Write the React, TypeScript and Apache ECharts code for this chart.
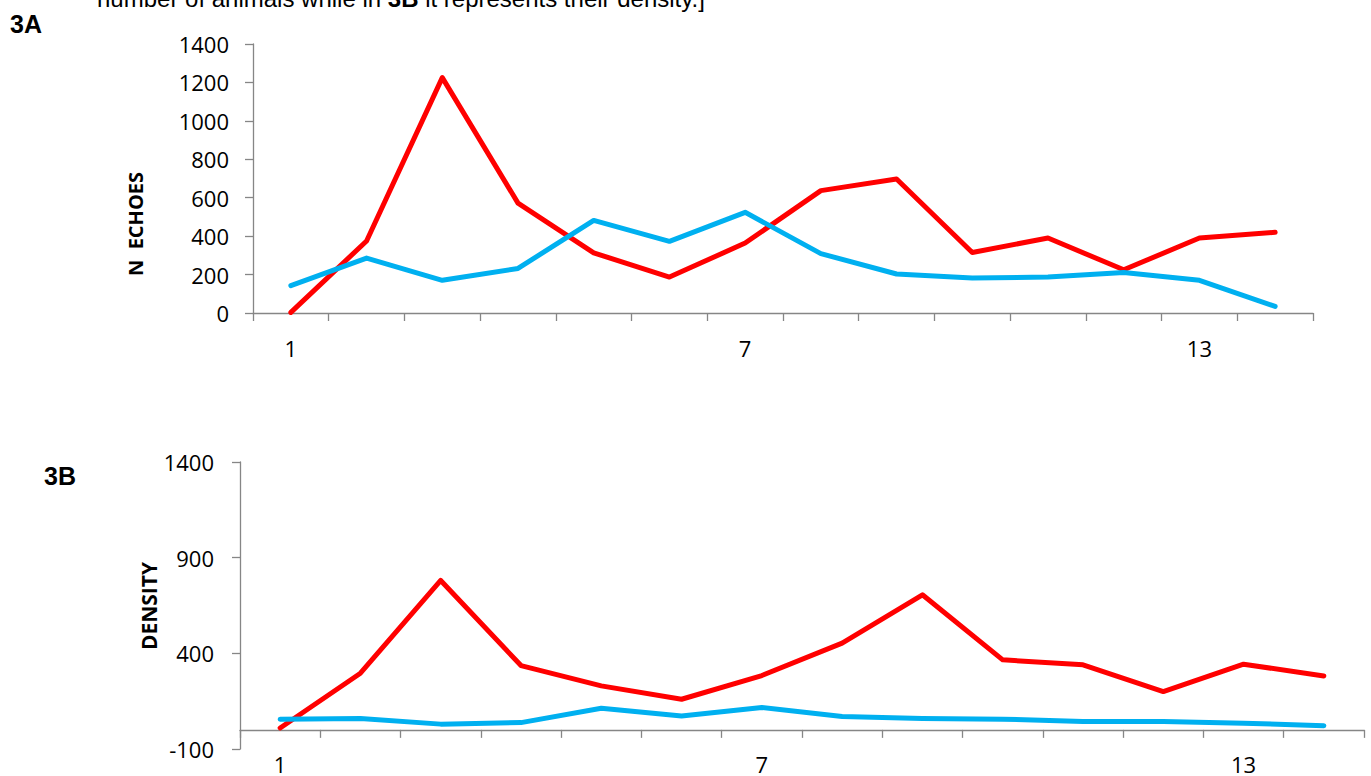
import React, { useEffect, useRef } from "react";
import * as echarts from "echarts";

const categories = ["1", "2", "3", "4", "5", "6", "7", "8", "9", "10", "11", "12", "13", "14"];
const echoesRed = [3, 375, 1225, 572, 313, 187, 364, 637, 697, 315, 390, 225, 390, 420];
const echoesBlue = [142, 286, 170, 232, 482, 373, 524, 309, 203, 182, 187, 211, 170, 34];
const densityRed = [10, 296, 781, 336, 230, 160, 284, 453, 706, 366, 340, 200, 343, 282];
const densityBlue = [56, 59, 30, 38, 113, 73, 117, 70, 59, 56, 44, 44, 35, 22];

const RED = "#FF0000";
const BLUE = "#00B0F0";
const AXIS = "#868686";
const TICK_FONT = "'Open Sans', sans-serif";

export default function App() {
  const ref = useRef<HTMLDivElement>(null);
  useEffect(() => {
    if (!ref.current) return;
    const chart = echarts.init(ref.current, null, { renderer: "svg" });
    const xAxisCommon = (gridIndex: number, margin: number) => ({
      type: "category",
      gridIndex,
      data: categories,
      boundaryGap: true,
      axisLine: { show: true, onZero: true, lineStyle: { color: AXIS, width: 1.3 } },
      axisTick: { show: true, interval: 0, length: 8, lineStyle: { color: AXIS, width: 1.3 } },
      axisLabel: { interval: 5, margin, color: "#000", fontSize: 22, fontFamily: TICK_FONT },
      splitLine: { show: false },
    });
    const yAxisCommon = (gridIndex: number, min: number, max: number, interval: number, margin: number) => ({
      type: "value",
      gridIndex,
      min,
      max,
      interval,
      axisLine: { show: true, lineStyle: { color: AXIS, width: 1.3 } },
      axisTick: { show: true, length: 8, lineStyle: { color: AXIS, width: 1.3 } },
      axisLabel: {
        margin,
        color: "#000",
        fontSize: 22,
        fontFamily: TICK_FONT,
        formatter: (v: number) => String(v),
      },
      splitLine: { show: false },
    });
    const lineSeries = (name: string, data: number[], color: string, idx: number) => ({
      name,
      type: "line",
      xAxisIndex: idx,
      yAxisIndex: idx,
      data,
      showSymbol: false,
      symbol: "none",
      lineStyle: { color, width: 5, cap: "round", join: "round" },
      itemStyle: { color },
      z: color === BLUE ? 3 : 2,
    });
    chart.setOption({
      animation: false,
      backgroundColor: "#fff",
      grid: [
        { left: 253, top: 44, width: 1060, height: 269, outerBoundsMode: "none", containLabel: false },
        { left: 240, top: 462, width: 1124, height: 287, outerBoundsMode: "none", containLabel: false },
      ],
      xAxis: [xAxisCommon(0, 24), xAxisCommon(1, 4)],
      yAxis: [yAxisCommon(0, 0, 1400, 200, 24), yAxisCommon(1, -100, 1400, 500, 26)],
      series: [
        lineSeries("A red", echoesRed, RED, 0),
        lineSeries("A blue", echoesBlue, BLUE, 0),
        lineSeries("B red", densityRed, RED, 1),
        lineSeries("B blue", densityBlue, BLUE, 1),
      ],
      graphic: [
        {
          type: "text",
          left: 97,
          top: -14,
          style: {
            text: "{a|number of animals while in }{b|3B}{a| it represents their density.]}",
            rich: {
              a: { fontFamily: "'Liberation Sans', Arial, sans-serif", fontSize: 24, fill: "#000" },
              b: { fontFamily: "'Liberation Sans', Arial, sans-serif", fontSize: 24, fontWeight: "bold", fill: "#000" },
            },
          },
        },
        {
          type: "text",
          x: 10,
          y: 24,
          style: {
            text: "3A",
            fontFamily: "'Liberation Sans', Arial, sans-serif",
            fontSize: 25,
            fontWeight: "bold",
            fill: "#000",
            verticalAlign: "middle",
          },
        },
        {
          type: "text",
          x: 44,
          y: 476,
          style: {
            text: "3B",
            fontFamily: "'Liberation Sans', Arial, sans-serif",
            fontSize: 25,
            fontWeight: "bold",
            fill: "#000",
            verticalAlign: "middle",
          },
        },
        {
          type: "text",
          x: 135,
          y: 224,
          rotation: Math.PI / 2,
          style: {
            text: "N  ECHOES",
            fontFamily: TICK_FONT,
            fontSize: 20,
            fontWeight: "bold",
            fill: "#000",
            align: "center",
            verticalAlign: "middle",
          },
        },
        {
          type: "text",
          x: 149,
          y: 606,
          rotation: Math.PI / 2,
          style: {
            text: "DENSITY",
            fontFamily: TICK_FONT,
            fontSize: 21,
            fontWeight: "bold",
            fill: "#000",
            align: "center",
            verticalAlign: "middle",
          },
        },
      ],
    });
    return () => chart.dispose();
  }, []);
  return (
    <div
      ref={ref}
      style={{ position: "fixed", left: 0, top: 0, width: 1371, height: 776, background: "#fff" }}
    />
  );
}
